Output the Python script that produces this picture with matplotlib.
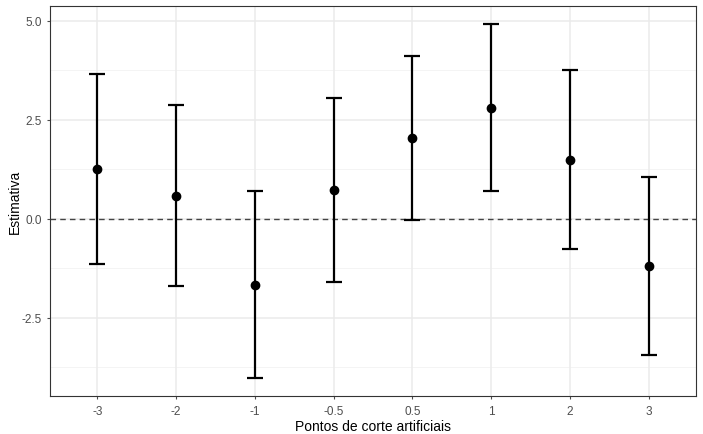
import matplotlib
matplotlib.use("Agg")
import matplotlib.pyplot as plt
import numpy as np

categories = ["-3", "-2", "-1", "-0.5", "0.5", "1", "2", "3"]
estimates = [1.25, 0.57, -1.67, 0.71, 2.03, 2.79, 1.48, -1.19]
upper = [3.66, 2.87, 0.69, 3.04, 4.10, 4.91, 3.76, 1.05]
lower = [-1.15, -1.70, -4.04, -1.60, -0.04, 0.69, -0.78, -3.45]
yticks = [-2.5, 0.0, 2.5, 5.0]
yticklabels = ["-2.5", "0.0", "2.5", "5.0"]

plt.rcParams['font.family'] = ['Liberation Sans', 'DejaVu Sans']

fig = plt.figure(figsize=(7.03, 4.35), dpi=100)
W, H = 703, 435
ax = fig.add_axes([50 / W, (H - 397.3) / H, 646 / W, 390 / H])

x = np.arange(1, len(categories) + 1)
est = np.array(estimates)
yerr = np.vstack([est - np.array(lower), np.array(upper) - est])

ax.set_xlim(0.4, len(categories) + 0.6)
ax.set_ylim(-4.49, 5.36)

# grid
for yv in [-3.75, -1.25, 1.25, 3.75]:
    ax.axhline(yv, color="#f2f2f2", lw=0.6, zorder=0)
for yv in yticks:
    ax.axhline(yv, color="#ebebeb", lw=1.1, zorder=0)
for xv in x:
    ax.axvline(xv, color="#ebebeb", lw=1.1, zorder=0)

ax.axhline(0, color="#444444", lw=1.0, ls=(0, (4, 3)), zorder=1)

ax.errorbar(x, est, yerr=yerr, fmt="o", color="black", ms=6, lw=1.6,
            capsize=5.5, capthick=1.6, zorder=3)

ax.set_xticks(x)
ax.set_xticklabels(categories)
ax.set_yticks(yticks)
ax.set_yticklabels(yticklabels)
ax.tick_params(axis="both", colors="#4d4d4d", labelsize=8.5, length=2.5, width=0.8,
               labelcolor="#4d4d4d")
for s in ax.spines.values():
    s.set_color("#333333")
    s.set_linewidth(0.8)

ax.set_xlabel("Pontos de corte artificiais", fontsize=10, color="black", labelpad=2)
ax.set_ylabel("Estimativa", fontsize=10, color="black", labelpad=0)

fig.savefig("out.png", dpi=100)
